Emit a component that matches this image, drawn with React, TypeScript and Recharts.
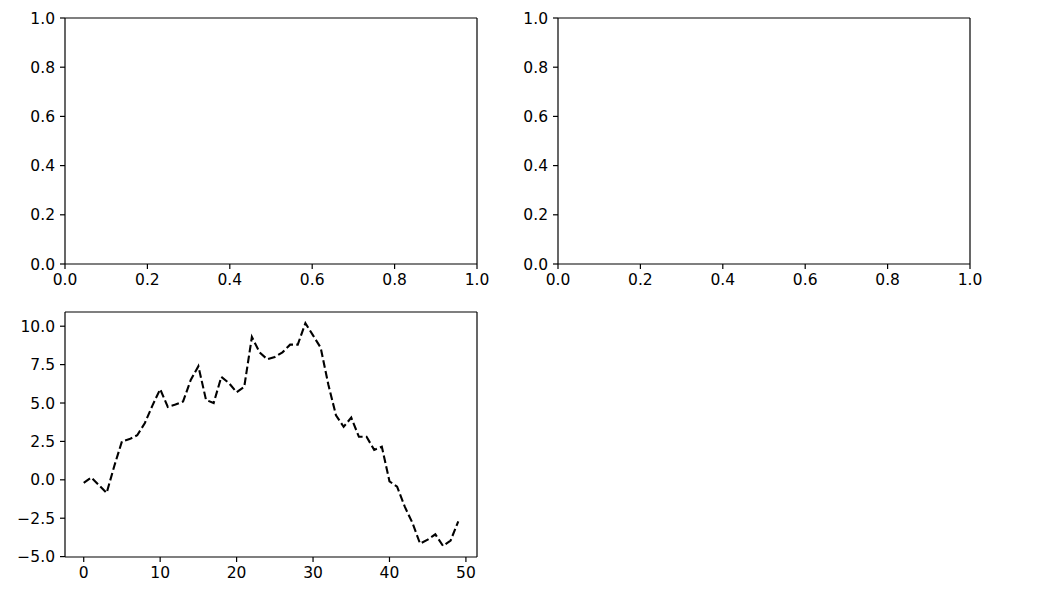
import React from "react";
import { LineChart, Line, XAxis, YAxis } from "recharts";

const stepIndex: number[] = Array.from({ length: 50 }, (_, i) => i);
const walkValues: number[] = [
  -0.2, 0.15, -0.35, -0.85, 0.9, 2.5, 2.65, 2.9, 3.7, 4.85,
  5.9, 4.75, 4.9, 5.1, 6.5, 7.4, 5.2, 5.0, 6.7, 6.3,
  5.7, 6.05, 9.3, 8.3, 7.85, 8.0, 8.3, 8.8, 8.8, 10.2,
  9.4, 8.6, 6.2, 4.2, 3.45, 4.05, 2.8, 2.8, 1.95, 2.15,
  -0.1, -0.45, -1.75, -2.8, -4.15, -3.9, -3.55, -4.3, -3.95, -2.7,
];
const unitTicks: number[] = [0, 0.2, 0.4, 0.6, 0.8, 1.0];
const walkXTicks: number[] = [0, 10, 20, 30, 40, 50];
const walkYTicks: number[] = [-5, -2.5, 0, 2.5, 5, 7.5, 10];

const walkData = stepIndex.map((x, i) => ({ x, y: walkValues[i] }));

const FONT = "'DejaVu Sans', sans-serif";
const tickStyle = { fill: "#000", fontSize: 15.5, fontFamily: FONT };
const axisLine = { stroke: "#000", strokeWidth: 1.2 };
const fmt = (v: number) => v.toFixed(1).replace("-", "\u2212");
const fmtInt = (v: number) => String(v);

const MARGIN = { top: 17, right: 22, bottom: 0, left: 0 };

function EmptyAxes({ left, top }: { left: number; top: number }) {
  return (
    <div style={{ position: "absolute", left, top }}>
      <LineChart width={500} height={300} data={[]} margin={MARGIN}>
        <XAxis
          xAxisId="b"
          type="number"
          dataKey="x"
          domain={[0, 1]}
          ticks={unitTicks}
          tickFormatter={fmt}
          allowDataOverflow
          height={36}
          tick={tickStyle}
          tickSize={5}
          tickMargin={5}
          axisLine={axisLine}
          tickLine={axisLine}
          interval={0}
        />
        <XAxis xAxisId="t" orientation="top" type="number" domain={[0, 1]} allowDataOverflow height={1} tick={false} tickLine={false} axisLine={axisLine} />
        <YAxis
          yAxisId="l"
          type="number"
          domain={[0, 1]}
          ticks={unitTicks}
          tickFormatter={fmt}
          allowDataOverflow
          width={65}
          tick={tickStyle}
          tickSize={5}
          tickMargin={5}
          axisLine={axisLine}
          tickLine={axisLine}
          interval={0}
        />
        <YAxis yAxisId="r" orientation="right" type="number" domain={[0, 1]} allowDataOverflow width={1} tick={false} tickLine={false} axisLine={axisLine} />
      </LineChart>
    </div>
  );
}

export default function App() {
  return (
    <div style={{ position: "absolute", left: 0, top: 0, width: 1057, height: 597, background: "#fff" }}>
      <EmptyAxes left={0} top={0} />
      <EmptyAxes left={493} top={0} />
      <div style={{ position: "absolute", left: 0, top: 294 }}>
        <LineChart width={500} height={300} data={walkData} margin={MARGIN}>
          <XAxis
            xAxisId="b"
            type="number"
            dataKey="x"
            domain={[-2.45, 51.45]}
            ticks={walkXTicks}
            tickFormatter={fmtInt}
            allowDataOverflow
            height={37}
            tick={tickStyle}
            tickSize={5}
            tickMargin={5}
            axisLine={axisLine}
            tickLine={axisLine}
            interval={0}
          />
          <XAxis xAxisId="t" orientation="top" type="number" dataKey="x" domain={[-2.45, 51.45]} allowDataOverflow height={1} tick={false} tickLine={false} axisLine={axisLine} />
          <YAxis
            yAxisId="l"
            type="number"
            domain={[-5.025, 10.925]}
            ticks={walkYTicks}
            tickFormatter={fmt}
            allowDataOverflow
            width={65}
            tick={tickStyle}
            tickSize={5}
            tickMargin={5}
            axisLine={axisLine}
            tickLine={axisLine}
            interval={0}
          />
          <YAxis yAxisId="r" orientation="right" type="number" domain={[-5.025, 10.925]} allowDataOverflow width={1} tick={false} tickLine={false} axisLine={axisLine} />
          <Line
            xAxisId="b"
            yAxisId="l"
            type="linear"
            dataKey="y"
            stroke="#000"
            strokeWidth={2.1}
            strokeDasharray="7.7 3.3"
            dot={false}
            activeDot={false}
            isAnimationActive={false}
          />
        </LineChart>
      </div>
    </div>
  );
}
